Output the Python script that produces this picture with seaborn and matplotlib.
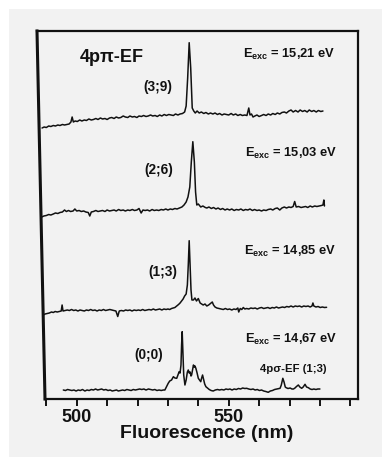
import matplotlib
matplotlib.use("Agg")
import matplotlib.pyplot as plt
from matplotlib.lines import Line2D
from matplotlib.patches import Rectangle
from matplotlib.ticker import FixedLocator, MultipleLocator
import seaborn as sns
import pandas as pd

# ---------------------------------------------------------------------------
# Fluorescence spectra of the 4p(pi)-EF state, one per excitation energy.
# Wavelength in nm, intensity in arbitrary units above each trace's baseline.
# ---------------------------------------------------------------------------
wl_1521 = [488.6, 489.3, 490.0, 490.8, 491.5, 492.3, 493.0, 493.8, 494.5, 495.3,
           496.0, 496.8, 497.5, 498.1, 498.5, 498.9, 499.5, 500.2, 501.0, 501.7,
           502.5, 503.2, 504.0, 504.8, 505.5, 506.3, 507.0, 507.8, 508.5, 509.3,
           510.0, 510.8, 511.5, 512.3, 513.0, 513.8, 514.5, 515.3, 516.0, 516.8,
           517.5, 518.3, 519.0, 519.8, 520.5, 521.3, 522.0, 522.8, 523.5, 524.3,
           525.0, 525.8, 526.5, 527.3, 528.0, 528.8, 529.5, 530.3, 531.0, 531.8,
           532.5, 533.3, 534.0, 534.8, 535.5, 536.0, 536.5, 537.0, 537.5, 538.0,
           538.5, 539.0, 539.6, 540.3, 541.0, 541.8, 542.5, 543.3, 544.0, 544.8,
           545.5, 546.3, 547.0, 547.8, 548.5, 549.3, 550.0, 550.8, 551.5, 552.3,
           553.0, 553.8, 554.5, 555.3, 556.0, 556.6, 557.0, 557.5, 558.0, 558.6,
           559.3, 560.0, 560.8, 561.5, 562.3, 563.0, 563.8, 564.5, 565.3, 566.0,
           566.8, 567.5, 568.3, 569.0, 569.8, 570.5, 571.2, 572.0, 572.8, 573.5,
           574.3, 575.0, 575.8, 576.5, 577.3, 578.0, 578.8, 579.5, 580.3, 581.0]
int_1521 = [0, 1, 0.5, 2, 1.5, 2.5, 2, 3, 2.5, 3.5,
            3, 3.5, 4, 6, 11, 6, 7, 6.5, 8, 7,
            8, 7.5, 9, 8, 8.5, 9.5, 8.5, 10, 9, 9.5,
            8.5, 10, 10.5, 9.5, 11, 10, 10.5, 12, 11, 10.5,
            12, 11, 11.5, 10.5, 12, 11.5, 12.5, 11.5, 12, 13,
            12, 12.5, 11.5, 13, 12, 13.5, 12.5, 13.5, 13, 12.5,
            14, 13, 14, 14.5, 16, 22, 50, 85.3, 60, 20,
            17, 15, 17, 15, 16, 14.5, 15.5, 14, 15, 14,
            15, 13.5, 14.5, 13, 14, 13.5, 13, 14.5, 13, 14,
            12.5, 13.5, 12.5, 13, 12.5, 20, 13, 14, 11, 12,
            13, 11.5, 12.5, 13.5, 12.5, 14, 13, 14.5, 13.5, 15,
            14, 15.5, 16, 15, 17, 18, 16, 17.5, 16, 18,
            16.5, 17.5, 16, 18, 16.5, 17.5, 16, 17.5, 16.5, 17]

wl_1503 = [488.5, 489.2, 490.0, 490.8, 491.5, 492.3, 493.0, 493.8, 494.5, 495.3,
           496.0, 496.6, 497.3, 498.0, 498.8, 499.4, 500.0, 500.8, 501.5, 502.3,
           503.0, 503.8, 504.3, 504.8, 505.5, 506.3, 507.0, 507.8, 508.5, 509.3,
           510.0, 510.8, 511.5, 512.3, 513.0, 513.8, 514.5, 515.3, 516.0, 516.8,
           517.5, 518.3, 519.0, 519.8, 520.5, 521.2, 521.8, 522.5, 523.3, 524.0,
           524.8, 525.5, 526.3, 527.0, 527.8, 528.5, 529.3, 530.0, 530.8, 531.5,
           532.3, 533.0, 533.8, 534.6, 535.3, 536.0, 536.6, 537.2, 537.7, 538.2,
           538.7, 539.1, 539.5, 540.0, 540.8, 541.5, 542.3, 542.8, 543.5, 544.3,
           545.0, 545.8, 546.5, 547.3, 548.0, 548.8, 549.5, 550.3, 551.0, 551.8,
           552.5, 553.3, 554.0, 554.8, 555.5, 556.3, 557.0, 557.8, 558.5, 559.3,
           560.0, 560.8, 561.5, 562.3, 563.0, 563.8, 564.5, 565.3, 566.0, 566.8,
           567.5, 568.3, 569.0, 569.8, 570.5, 571.2, 571.7, 572.2, 573.0, 573.8,
           574.5, 575.3, 576.0, 576.8, 577.5, 578.3, 579.0, 579.8, 580.5, 581.0,
           581.3, 581.5]
int_1503 = [0, 1, 1.5, 2.5, 2, 3, 4, 3.5, 4.5, 5,
            7, 5.5, 6.5, 5.5, 6, 8, 6, 6.5, 5.5, 6,
            5, 4.5, 1, 5, 5.5, 6.5, 5.5, 6, 6.5, 5.5,
            7, 6, 6.5, 7, 6, 7.5, 6.5, 7, 6, 7,
            6.5, 7.5, 6.5, 7, 8.5, 4, 7, 6.5, 7, 6,
            7.5, 6.5, 7, 6.5, 7.5, 7, 8, 7, 8, 7.5,
            8.5, 8, 9, 10, 12, 15, 20, 30, 55, 75.3,
            55, 25, 12, 13, 10, 11, 9.5, 9, 10, 8.5,
            9.5, 8, 9, 7.5, 8.5, 7, 8, 7, 8, 6.5,
            7.5, 7, 8, 6.5, 7.5, 7, 8, 6.5, 7.5, 6.5,
            7, 6, 7, 6.5, 7.5, 8, 7, 8.5, 9, 7,
            9, 10, 9, 10, 9.5, 10.5, 15.5, 10, 10.5, 9.5,
            10, 10.5, 9.5, 11, 10, 11, 10.5, 11, 11.5, 12,
            17, 11]

wl_1485 = [489.0, 489.6, 490.3, 491.0, 491.7, 492.3, 492.9, 493.6, 494.2, 494.9,
           495.2, 495.5, 496.2, 496.9, 497.6, 498.3, 499.0, 499.7, 500.4, 501.1,
           501.8, 502.5, 503.2, 503.9, 504.6, 505.3, 506.0, 506.7, 507.4, 508.1,
           508.8, 509.5, 510.2, 510.9, 511.5, 512.2, 512.9, 513.5, 514.0, 514.7,
           515.4, 516.1, 516.8, 517.5, 518.2, 518.9, 519.6, 520.3, 521.0, 521.7,
           522.4, 523.1, 523.8, 524.5, 525.2, 525.9, 526.6, 527.3, 528.0, 528.7,
           529.4, 530.0, 530.6, 531.2, 531.8, 532.3, 532.9, 533.5, 534.0, 534.5,
           535.0, 535.5, 536.0, 536.4, 536.7, 537.0, 537.3, 537.6, 537.9, 538.4,
           538.9, 539.4, 540.0, 540.6, 541.1, 541.6, 542.2, 542.8, 543.4, 544.0,
           544.6, 545.0, 545.5, 546.1, 546.8, 547.5, 548.2, 548.9, 549.6, 550.3,
           551.0, 551.7, 552.4, 553.0, 553.3, 553.8, 554.3, 554.8, 555.3, 555.9,
           556.6, 557.3, 558.0, 558.7, 559.4, 560.1, 560.8, 561.5, 562.2, 562.9,
           563.6, 564.3, 565.0, 565.7, 566.4, 567.0, 567.7, 568.4, 569.1, 569.8,
           570.5, 571.2, 571.9, 572.6, 573.3, 574.0, 574.7, 575.4, 576.1, 576.8,
           577.4, 577.7, 578.0, 578.7, 579.4, 580.1, 580.8, 581.5, 582.2]
int_1485 = [0, 1, 1.5, 2, 3, 2.5, 3.5, 3, 3.5, 4,
            10, 4, 4.5, 5, 4.5, 5.5, 4.5, 5, 4, 5,
            4.5, 4, 5, 4.5, 5.5, 4.5, 5, 4, 5, 4.5,
            5.5, 4.5, 5, 5.5, 5, 4.5, 4, -1.5, 4, 4.5,
            4, 5, 4.5, 5, 4, 5, 4.5, 5, 4.5, 5.5,
            4.5, 5, 5.5, 5, 6, 5, 5.5, 6, 5, 6,
            5.5, 6, 5.5, 6.5, 7, 7.5, 9, 10.5, 12, 14,
            16, 19, 21, 30, 50, 74.3, 50, 25, 15, 15,
            17, 14, 16.5, 12, 11, 10, 11, 9, 10, 11.5,
            13, 10, 8, 7, 6.5, 6, 5.5, 6.5, 5.5, 6,
            5, 6, 5.5, 7, 3, 6.5, 5.5, 7.5, 6, 6.5,
            6, 7, 6.5, 7, 6, 7, 7.5, 6.5, 7, 7.5,
            6.5, 7.5, 7, 8, 7, 7.5, 8, 7.5, 8.5, 8,
            9, 8, 9, 8.5, 9, 8, 9, 8.5, 9, 8,
            9, 12, 9, 8, 8.5, 7.5, 8, 7.5, 7.7]

wl_1467 = [495.6, 496.3, 497.0, 497.7, 498.4, 499.1, 499.8, 500.5, 501.2, 501.9,
           502.7, 503.4, 504.1, 504.8, 505.5, 506.2, 506.9, 507.6, 508.2, 508.9,
           509.6, 510.3, 511.0, 511.7, 512.4, 513.1, 513.7, 514.4, 515.1, 515.8,
           516.5, 517.2, 517.9, 518.6, 519.3, 520.0, 520.7, 521.4, 522.1, 522.8,
           523.6, 524.3, 525.0, 525.7, 526.4, 527.1, 527.8, 528.5, 529.0, 529.5,
           530.1, 530.6, 531.2, 531.8, 532.3, 532.9, 533.3, 533.7, 534.0, 534.3,
           534.5, 534.7, 534.9, 535.2, 535.6, 536.0, 536.4, 536.7, 537.0, 537.3,
           537.6, 537.8, 538.1, 538.4, 538.7, 538.9, 539.2, 539.6, 540.0, 540.4,
           540.8, 541.1, 541.4, 541.8, 542.1, 542.5, 543.0, 543.6, 544.2, 544.9,
           545.6, 546.3, 547.0, 547.7, 548.4, 549.1, 549.8, 550.4, 551.1, 551.8,
           552.5, 553.2, 553.9, 554.6, 555.3, 555.9, 556.6, 557.3, 558.0, 558.7,
           559.4, 560.1, 560.8, 561.5, 562.2, 563.0, 563.7, 564.4, 565.1, 565.8,
           566.4, 566.9, 567.3, 567.8, 568.2, 568.6, 568.9, 569.5, 570.2, 570.8,
           571.3, 571.8, 572.3, 572.9, 573.4, 574.0, 574.5, 575.1, 575.6, 576.2,
           576.8, 577.4, 578.0, 578.7, 579.3, 580.0]
int_1467 = [0, -0.5, 0.5, 0, -0.5, 0, -1, 0, -0.5, 0.5,
            -1, 0, -0.5, 0.5, 0, 1, 0, 0.5, 1, 0,
            0.5, -0.5, 0, -1, -0.5, 0, -1, -0.5, 0, -0.5,
            0.5, 0, -0.5, 0.5, 0, 0.5, 1, 0.5, 1, 0,
            1, 0.5, 0, 0.5, -0.5, 0, -0.5, 0, 0, 3,
            6.7, 9, 10, 13.3, 12, 11.7, 15, 18.3, 17, 25,
            45, 58.3, 40, 15, 5, 10, 18, 20, 17, 18,
            14, 15, 20, 25, 23, 24, 21.7, 17, 11.7, 10,
            8.3, 12, 15, 10, 6, 3.3, 2, 0.5, -0.5, -1,
            0, 0.5, 0, 0.5, 0, 1, 0.5, 1, 0, 1,
            0.5, 1.5, 1, 2, 1.5, 1.7, 1, 0.5, 1, 0,
            0.5, -0.5, 0, -1, -1.5, -2.3, -1, -0.5, 0.5, 1,
            1.5, 1.7, 5, 11.7, 8, 3, 2.3, 1.5, 2, 1,
            1, 2, 3.5, 5, 3, 1.7, 3, 5.7, 3, 2.3,
            1, 0.5, 1, 0.5, 1, 1]

excitation = ["15,21", "15,03", "14,85", "14,67"]
vib_labels = ["(3;9)", "(2;6)", "(1;3)", "(0;0)"]
wavelengths = [wl_1521, wl_1503, wl_1485, wl_1467]
intensities = [int_1521, int_1503, int_1485, int_1467]
stack_offsets = [271, 182, 84, 9]   # vertical shift of each trace

frames = []
for e, w, i, off in zip(excitation, wavelengths, intensities, stack_offsets):
    frames.append(pd.DataFrame({"wavelength": w,
                                "signal": [v + off for v in i],
                                "E_exc": e}))
spectra = pd.concat(frames, ignore_index=True)

# ---------------------------------------------------------------------------
sns.set_theme(style="ticks")
plt.rcParams["font.family"] = ["Liberation Sans", "DejaVu Sans"]
plt.rcParams["font.weight"] = "bold"
plt.rcParams["mathtext.fontset"] = "custom"
plt.rcParams["mathtext.rm"] = "Liberation Sans:bold"
plt.rcParams["mathtext.bf"] = "Liberation Sans:bold"
plt.rcParams["mathtext.it"] = "Liberation Sans:bold"

BG = "#f2f2f2"
INK = "#111111"

fig = plt.figure(figsize=(3.82, 4.57), dpi=100)
fig.patch.set_facecolor("white")
fig.add_artist(Rectangle((9 / 382, 0), 1, 1 - 9 / 457, transform=fig.transFigure,
                         facecolor=BG, edgecolor="none", zorder=-10))

ax = fig.add_axes([37 / 382, 1 - 399 / 457, 321 / 382, 368 / 457])
ax.set_facecolor(BG)

sns.lineplot(data=spectra, x="wavelength", y="signal", hue="E_exc",
             palette=[INK] * 4, estimator=None, sort=False, linewidth=1.1,
             legend=False, ax=ax)

ax.set_xlim(486.94, 592.53)
ax.set_ylim(0, 368)

# frame: left edge drawn slightly slanted, as in the printed figure
for side in ("top", "right", "bottom"):
    ax.spines[side].set_linewidth(1.6)
    ax.spines[side].set_color(INK)
ax.spines["left"].set_visible(False)
ax.spines["bottom"].set_bounds(489.6, 592.53)
ax.add_line(Line2D([0, 8 / 321], [1, 0], transform=ax.transAxes, color=INK,
                   linewidth=2.2, clip_on=False, solid_capstyle="projecting"))

ax.xaxis.set_major_locator(FixedLocator([500, 550]))
ax.xaxis.set_minor_locator(MultipleLocator(10))
ax.tick_params(axis="x", which="both", direction="out", length=5, width=1.4,
               color=INK, labelsize=13, pad=2, labelcolor=INK)
ax.tick_params(axis="y", left=False, labelleft=False)
ax.set_ylabel("")
ax.set_xlabel("Fluorescence (nm)", fontsize=14, fontweight="bold", color=INK,
              labelpad=0)
ax.xaxis.set_label_coords(0.529, -0.072)
for lbl in ax.get_xticklabels():
    lbl.set_fontweight("bold")

# annotations
ax.text(501.1, 337.3, "4pπ-EF", fontsize=13, fontweight="bold", color=INK,
        ha="left", va="baseline")

e_pos = [(554.8, 340.7), (555.4, 242.3), (555.1, 144.0), (555.4, 55.7)]
for e, (x, y) in zip(excitation, e_pos):
    ax.text(x, y, r"E$_{\mathrm{exc}}$ = " + e + " eV", fontsize=9.3, fontweight="bold",
            color=INK, ha="left", va="baseline")

v_pos = [(526.6, 312.3), (527.1, 229.0), (528.2, 127.3), (523.8, 43.5)]
for lab, (x, y) in zip(vib_labels, v_pos):
    ax.text(x, y, lab, fontsize=9.8, fontweight="bold", color=INK,
            ha="center", va="center")

ax.text(560.3, 29.8, "4pσ-EF (1;3)", fontsize=8.2, fontweight="bold", color=INK,
        ha="left", va="center")

fig.savefig("out.png", dpi=100, facecolor=fig.get_facecolor())
